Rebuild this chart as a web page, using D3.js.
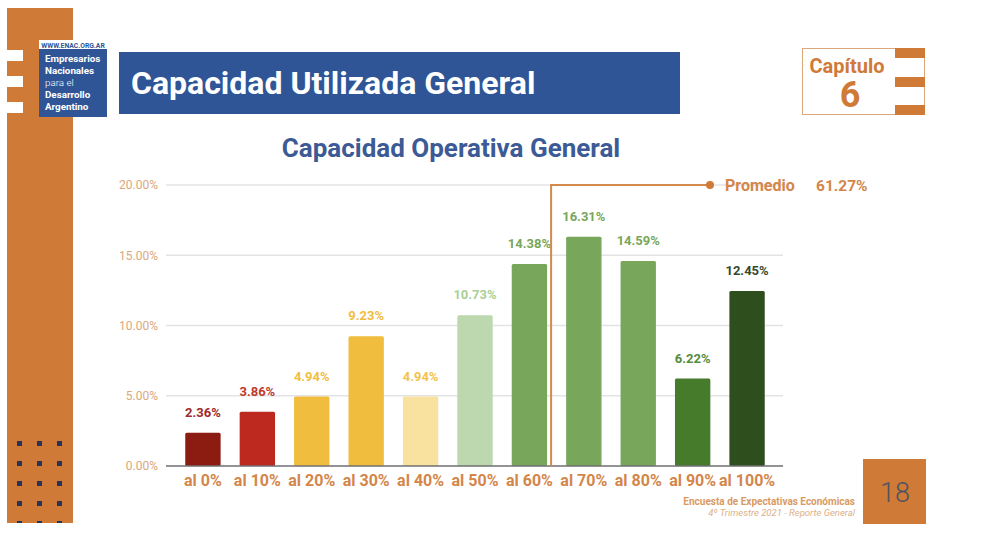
<!DOCTYPE html>
<html>
<head>
<meta charset="utf-8">
<script src="https://cdn.jsdelivr.net/npm/d3@7"></script>
<style>
  html, body { margin: 0; padding: 0; background: #fff; }
  svg { display: block; font-family: Roboto, "Noto Sans", sans-serif; }
</style>
</head>
<body>
<div id="chart"></div>
<script>
// values
const categories = ['al 0%', 'al 10%', 'al 20%', 'al 30%', 'al 40%', 'al 50%', 'al 60%', 'al 70%', 'al 80%', 'al 90%', 'al 100%'];
const values = [2.36, 3.86, 4.94, 9.23, 4.94, 10.73, 14.38, 16.31, 14.59, 6.22, 12.45];
const barColors = ['#8c1b12', '#bd281f', '#f0bd3f', '#f0bd3f', '#f9e2a0', '#bdd8ae', '#78a65a', '#78a65a', '#78a65a', '#467b2c', '#2f4e1e'];
const labelColors = ['#9e2a2b', '#c0392f', '#f0bd3f', '#f0bd3f', '#f0c44c', '#a9cf96', '#78a65a', '#78a65a', '#78a65a', '#558c3d', '#35492c'];
const yTicks = [0, 5, 10, 15, 20];
const promedio = 61.27;
const promedioAfter = 'al 60%'; // the marker sits just right of this bar

(function () {
  const W = 981, H = 538;
  const ORANGE = '#cf7a36';
  const BLUE = '#2f5597';

  const svg = d3.select('#chart').append('svg')
    .attr('width', W).attr('height', H)
    .attr('viewBox', `0 0 ${W} ${H}`);

  // ---- slide decoration ----
  svg.append('clipPath').attr('id', 'strip-clip')
    .append('rect').attr('x', 7).attr('y', 8).attr('width', 66).attr('height', 515);
  svg.append('rect').attr('x', 7).attr('y', 8).attr('width', 66).attr('height', 515).attr('fill', ORANGE);
  [50, 76, 102].forEach((y) => {
    svg.append('rect').attr('x', 7).attr('y', y).attr('width', 16).attr('height', 11).attr('fill', '#fff');
  });
  const dots = svg.append('g').attr('clip-path', 'url(#strip-clip)');
  for (let r = 0; r < 5; r++) {
    for (let c = 0; c < 3; c++) {
      dots.append('rect')
        .attr('x', 17 + c * 20).attr('y', 441 + r * 20)
        .attr('width', 5).attr('height', 5)
        .attr('fill', '#26335a');
    }
  }

  // logo box
  svg.append('rect').attr('x', 39).attr('y', 40).attr('width', 68).attr('height', 77).attr('fill', BLUE);
  svg.append('rect').attr('x', 39).attr('y', 40).attr('width', 68).attr('height', 9).attr('fill', '#fff');
  svg.append('text').attr('x', 73).attr('y', 47.5).attr('text-anchor', 'middle')
    .attr('font-size', 6.8).attr('font-weight', 700).attr('fill', BLUE).text('WWW.ENAC.ORG.AR');
  const logoLines = [['Empresarios', 700], ['Nacionales', 700], ['para el', 300], ['Desarrollo', 700], ['Argentino', 700]];
  logoLines.forEach((d, i) => {
    svg.append('text').attr('x', 45).attr('y', 62 + i * 12)
      .attr('font-size', 9.8).attr('font-weight', d[1]).attr('fill', '#fff').text(d[0]);
  });

  // header banner
  svg.append('rect').attr('x', 119).attr('y', 52).attr('width', 561).attr('height', 62).attr('fill', BLUE);
  svg.append('text').attr('x', 131).attr('y', 94)
    .attr('font-size', 32).attr('font-weight', 700).attr('fill', '#fff')
    .text('Capacidad Utilizada General');

  // chapter box
  svg.append('rect').attr('x', 802.5).attr('y', 48.5).attr('width', 122).attr('height', 66)
    .attr('fill', '#fff').attr('stroke', '#dca77a').attr('stroke-width', 1);
  [48, 77, 105].forEach((y) => {
    svg.append('rect').attr('x', 895).attr('y', y).attr('width', 30).attr('height', 10).attr('fill', ORANGE);
  });
  svg.append('text').attr('x', 847).attr('y', 73).attr('text-anchor', 'middle')
    .attr('font-size', 20).attr('font-weight', 700).attr('fill', ORANGE).text('Capítulo');
  svg.append('text').attr('x', 850).attr('y', 107).attr('text-anchor', 'middle')
    .attr('font-size', 36).attr('font-weight', 700).attr('fill', ORANGE).text('6');

  // page number + footer
  svg.append('rect').attr('x', 863).attr('y', 459).attr('width', 63).attr('height', 65).attr('fill', ORANGE);
  svg.append('text').attr('x', 895).attr('y', 502).attr('text-anchor', 'middle')
    .attr('font-size', 27).attr('font-weight', 300).attr('fill', '#4d5360').text('18');
  svg.append('text').attr('x', 855).attr('y', 505).attr('text-anchor', 'end')
    .attr('font-size', 10).attr('font-weight', 700).attr('fill', '#d99a62')
    .text('Encuesta de Expectativas Económicas');
  svg.append('text').attr('x', 855).attr('y', 516).attr('text-anchor', 'end')
    .attr('font-size', 9.5).attr('font-style', 'italic').attr('fill', '#dcb08a')
    .text('4º Trimestre 2021 - Reporte General');

  // ---- chart ----
  svg.append('text').attr('x', 451).attr('y', 157).attr('text-anchor', 'middle')
    .attr('font-size', 26).attr('font-weight', 700).attr('fill', '#3c5a96')
    .text('Capacidad Operativa General');

  const plot = { left: 166, right: 783, top: 185, bottom: 466 };

  const x = d3.scaleBand()
    .domain(categories)
    .range([176, 774])
    .paddingInner(0.35)
    .paddingOuter(0.17);

  const y = d3.scaleLinear()
    .domain([0, 20])
    .range([plot.bottom, plot.top]);

  const fmt = (v) => d3.format('.2f')(v) + '%';

  // grid
  svg.append('g').selectAll('line').data(yTicks.filter((t) => t > 0)).join('line')
    .attr('x1', plot.left).attr('x2', plot.right)
    .attr('y1', (d) => y(d)).attr('y2', (d) => y(d))
    .attr('stroke', '#e3e3e6').attr('stroke-width', 1.5);

  // y axis labels
  const yAxis = svg.append('g')
    .attr('transform', `translate(${plot.left},0)`)
    .call(d3.axisLeft(y).tickValues(yTicks).tickFormat(fmt).tickSize(0).tickPadding(8));
  yAxis.select('.domain').remove();
  yAxis.selectAll('text')
    .attr('font-size', 12).attr('fill', '#dba77c')
    .attr('font-family', 'Roboto, sans-serif');

  // bars
  svg.append('g').selectAll('rect').data(values).join('rect')
    .attr('x', (d, i) => x(categories[i]))
    .attr('y', (d) => y(d))
    .attr('width', x.bandwidth())
    .attr('height', (d) => y(0) - y(d))
    .attr('rx', 1.5)
    .attr('fill', (d, i) => barColors[i]);

  // value labels
  svg.append('g').selectAll('text').data(values).join('text')
    .attr('x', (d, i) => x(categories[i]) + x.bandwidth() / 2)
    .attr('y', (d) => y(d) - 16)
    .attr('text-anchor', 'middle')
    .attr('font-size', 13).attr('font-weight', 700)
    .attr('fill', (d, i) => labelColors[i])
    .text(fmt);

  // baseline
  svg.append('line')
    .attr('x1', plot.left).attr('x2', plot.right)
    .attr('y1', y(0)).attr('y2', y(0))
    .attr('stroke', '#6f6f72').attr('stroke-width', 1.5);

  // x axis labels
  const xAxis = svg.append('g')
    .attr('transform', `translate(0,${y(0)})`)
    .call(d3.axisBottom(x).tickSize(0).tickPadding(9));
  xAxis.select('.domain').remove();
  xAxis.selectAll('text')
    .attr('font-size', 16).attr('font-weight', 700).attr('fill', '#d4864a')
    .attr('font-family', 'Roboto, sans-serif');

  // promedio marker
  const px = x(promedioAfter) + x.bandwidth() + 4;
  const py = y(20);
  const dotX = 710;
  svg.append('path')
    .attr('d', `M${px},${y(0)}V${py}H${dotX}`)
    .attr('fill', 'none').attr('stroke', '#d48a4c').attr('stroke-width', 2);
  svg.append('circle').attr('cx', dotX).attr('cy', py).attr('r', 4).attr('fill', '#d07a3a');
  svg.append('text').attr('x', 725).attr('y', py + 6)
    .attr('font-size', 16).attr('font-weight', 700).attr('fill', '#d4864a')
    .text('Promedio');
  svg.append('text').attr('x', 816).attr('y', py + 6)
    .attr('font-size', 15.5).attr('font-weight', 700).attr('fill', '#d4864a')
    .text(fmt(promedio));
})();
</script>
</body>
</html>
